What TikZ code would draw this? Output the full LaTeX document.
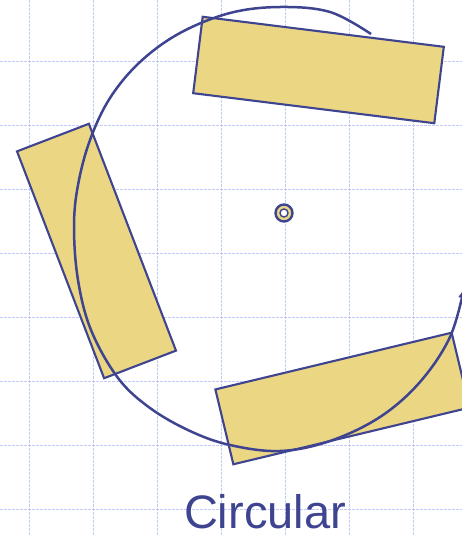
\documentclass[tikz,border=0pt]{standalone}
\usepackage{fontspec}
\setsansfont{Liberation Sans}
\usetikzlibrary{arrows.meta}
\definecolor{ringblue}{HTML}{3E4490}
\definecolor{sandyellow}{HTML}{EBD684}
\definecolor{gridblue}{HTML}{C2CCFA}
\tikzset{
  gridline/.style={gridblue,line width=0.9pt,dash pattern=on 2.5pt off 1.5pt},
  slab/.style={draw=ringblue,fill=sandyellow,line width=2.1pt,minimum width=243pt,minimum height=77pt,inner sep=0pt,outer sep=0pt},
  orbit/.style={ringblue,line width=2.5pt,-{Latex[length=10pt,width=8pt]}},
  hub/.style={circle,draw=ringblue,fill=sandyellow,line width=2.4pt,minimum size=17pt,inner sep=0pt},
  hubcore/.style={circle,draw=ringblue,fill=white,line width=1.4pt,minimum size=8pt,inner sep=0pt}
}

\begin{document}
\begin{tikzpicture}[x=1pt,y=-1pt]
\useasboundingbox (0,0) rectangle (462,536);
% background grid
\foreach \gx in {29,93,...,477} \draw[gridline] (\gx,0) -- (\gx,536);
\foreach \gy in {61,125,...,509} \draw[gridline] (0,\gy) -- (462,\gy);
% the three slabs
\node[slab,rotate=-7.1] (topslab) at (318.5,70) {};
\node[slab,rotate=-69] (leftslab) at (96.5,251) {};
\node[slab,rotate=13.5] (lowslab) at (342.5,398.5) {};
% centre
\node[hub] (hub) at (284,213) {};
\node[hubcore] (hubcore) at (hub) {};
% circular path
\draw[orbit] plot[smooth,tension=0.6] coordinates {(371,34) (330,12) (280,7) (230,13) (180,33) (140,62) (110,98) (90,140) (78,185) (74,227) (78,280) (91,330) (118,378) (150,408) (190,431) (230,445) (280,451) (330,441) (380,417) (420,382) (450,337) (464,288)};
\node[font=\sffamily\fontsize{47}{56}\selectfont,text=ringblue,anchor=base,inner sep=0pt] (caption) at (265,528) {Circular};
\end{tikzpicture}
\end{document}
